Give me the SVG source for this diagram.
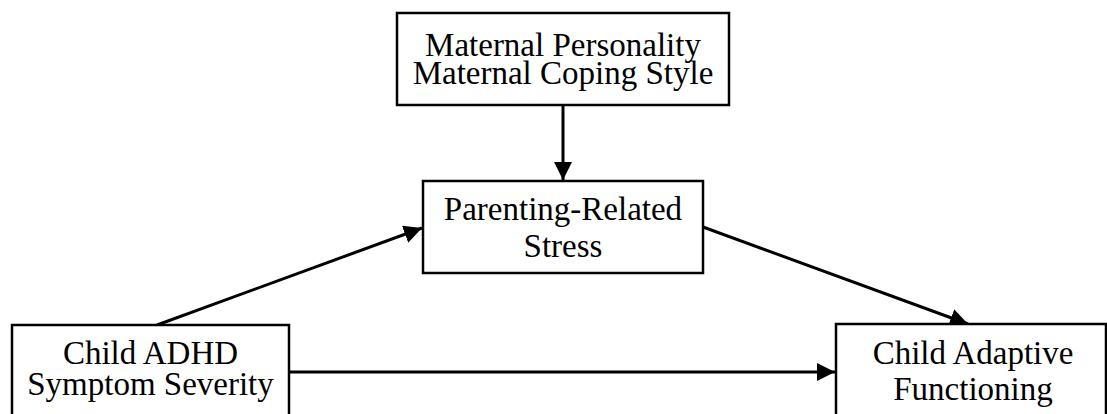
<svg xmlns="http://www.w3.org/2000/svg" width="1107" height="414" viewBox="0 0 1107 414">
<style>
.box{fill:#fff;stroke:#000;stroke-width:2.5}
.lbl{font-family:"Liberation Serif","Times New Roman",serif;font-size:33px;fill:#000;text-anchor:middle}
.con{stroke:#000;stroke-width:3;fill:none;marker-end:url(#ah)}
</style>
<defs>
<marker id="ah" markerUnits="userSpaceOnUse" markerWidth="18" markerHeight="18" viewBox="0 0 17 17" refX="17" refY="8.5" orient="auto">
<path d="M0,0 L17,8.5 L0,17 Z" fill="#000"/>
</marker>
</defs>
<rect width="1107" height="414" fill="#fff"/>
<g id="connectors">
<line class="con" x1="563" y1="105" x2="563" y2="180"/>
<line class="con" x1="157" y1="325" x2="422" y2="228"/>
<line class="con" x1="703" y1="227" x2="968" y2="324"/>
<line class="con" x1="289" y1="372" x2="835" y2="372"/>
</g>
<g id="maternal">
<rect class="box" x="397" y="13" width="332" height="92"/>
<text class="lbl" x="563" y="56">Maternal Personality</text>
<text class="lbl" x="563" y="84">Maternal Coping Style</text>
</g>
<g id="stress">
<rect class="box" x="423" y="181" width="280" height="92"/>
<text class="lbl" x="563" y="220">Parenting-Related</text>
<text class="lbl" x="563" y="257">Stress</text>
</g>
<g id="adhd">
<rect class="box" x="12" y="325" width="277" height="100"/>
<text class="lbl" x="150.5" y="364">Child ADHD</text>
<text class="lbl" x="150.5" y="395">Symptom Severity</text>
</g>
<g id="adaptive">
<rect class="box" x="836" y="324" width="270" height="100"/>
<text class="lbl" x="973" y="364">Child Adaptive</text>
<text class="lbl" x="973" y="400">Functioning</text>
</g>
</svg>
